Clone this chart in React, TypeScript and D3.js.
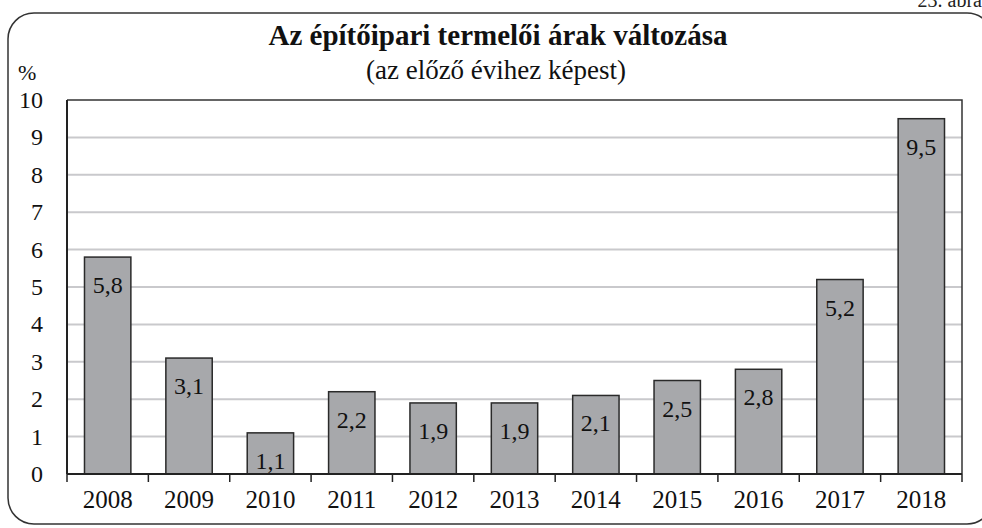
import React, { useRef, useEffect } from "react";
import * as d3 from "d3";

const years = ["2008", "2009", "2010", "2011", "2012", "2013", "2014", "2015", "2016", "2017", "2018"];
const values = [5.8, 3.1, 1.1, 2.2, 1.9, 1.9, 2.1, 2.5, 2.8, 5.2, 9.5];
const yTicks = [0, 1, 2, 3, 4, 5, 6, 7, 8, 9, 10];

const title = "Az építőipari termelői árak változása";
const subtitle = "(az előző évihez képest)";

export default function App() {
  const ref = useRef<SVGSVGElement | null>(null);

  useEffect(() => {
    if (!ref.current) return;
    const width = 982;
    const height = 528;
    const margin = { top: 100, right: 20, bottom: 54, left: 67 };
    const font = "Liberation Serif, DejaVu Serif, serif";

    const svg = d3.select(ref.current);
    svg.selectAll("*").remove();

    // outer rounded frame
    svg.append("rect")
      .attr("x", 8).attr("y", 13)
      .attr("width", 985).attr("height", 511)
      .attr("rx", 26).attr("ry", 26)
      .attr("fill", "none")
      .attr("stroke", "#333")
      .attr("stroke-width", 1.5);

    svg.append("text")
      .attr("x", 982).attr("y", 7)
      .attr("text-anchor", "end")
      .attr("font-family", font)
      .attr("font-size", 20)
      .attr("fill", "#222")
      .text("23. ábra");

    const x = d3.scaleBand()
      .domain(years)
      .range([margin.left, width - margin.right])
      .paddingInner(0.43)
      .paddingOuter(0.215);

    const y = d3.scaleLinear()
      .domain([0, 10])
      .range([height - margin.bottom, margin.top]);

    // gridlines
    svg.append("g")
      .selectAll("line")
      .data(yTicks.filter(d => d > 0 && d < 10))
      .join("line")
        .attr("x1", margin.left).attr("x2", width - margin.right)
        .attr("y1", d => y(d)).attr("y2", d => y(d))
        .attr("stroke", "#c9c9cc")
        .attr("stroke-width", 2);

    // plot frame (top, right)
    svg.append("path")
      .attr("d", `M${margin.left},${y(10)}H${width - margin.right}V${y(0)}`)
      .attr("fill", "none")
      .attr("stroke", "#333")
      .attr("stroke-width", 1.5);

    // bars
    svg.append("g")
      .selectAll("rect")
      .data(values)
      .join("rect")
        .attr("x", (d, i) => x(years[i])!)
        .attr("y", d => y(d))
        .attr("width", x.bandwidth())
        .attr("height", d => y(0) - y(d))
        .attr("fill", "#a7a8ab")
        .attr("stroke", "#2a2a2a")
        .attr("stroke-width", 1.5);

    // value labels
    svg.append("g")
      .attr("font-family", font)
      .attr("font-size", 24)
      .attr("text-anchor", "middle")
      .attr("fill", "#111")
      .selectAll("text")
      .data(values)
      .join("text")
        .attr("x", (d, i) => x(years[i])! + x.bandwidth() / 2)
        .attr("y", d => y(d) + 36)
        .text(d => d3.format(".1f")(d).replace(".", ","));

    // y axis line
    svg.append("line")
      .attr("x1", margin.left).attr("x2", margin.left)
      .attr("y1", y(10)).attr("y2", y(0))
      .attr("stroke", "#222").attr("stroke-width", 2);

    // y tick labels
    svg.append("g")
      .attr("font-family", font)
      .attr("font-size", 24)
      .attr("text-anchor", "end")
      .attr("fill", "#111")
      .selectAll("text")
      .data(yTicks)
      .join("text")
        .attr("x", 43)
        .attr("y", d => y(d) + 8)
        .text(d => d);

    // x axis
    const step = x.step();
    const boundaries = d3.range(years.length + 1).map(i => margin.left + i * step);
    svg.append("line")
      .attr("x1", margin.left).attr("x2", width - margin.right)
      .attr("y1", y(0)).attr("y2", y(0))
      .attr("stroke", "#222").attr("stroke-width", 2);
    svg.append("g")
      .selectAll("line")
      .data(boundaries)
      .join("line")
        .attr("x1", d => d).attr("x2", d => d)
        .attr("y1", y(0)).attr("y2", y(0) + 8)
        .attr("stroke", "#222").attr("stroke-width", 1.5);

    svg.append("g")
      .attr("font-family", font)
      .attr("font-size", 25)
      .attr("text-anchor", "middle")
      .attr("fill", "#111")
      .selectAll("text")
      .data(years)
      .join("text")
        .attr("x", d => x(d)! + x.bandwidth() / 2)
        .attr("y", y(0) + 34)
        .text(d => d);

    // titles
    svg.append("text")
      .attr("x", 498).attr("y", 45)
      .attr("text-anchor", "middle")
      .attr("font-family", font)
      .attr("font-size", 29)
      .attr("font-weight", "bold")
      .attr("fill", "#111")
      .text(title);
    svg.append("text")
      .attr("x", 496).attr("y", 79)
      .attr("text-anchor", "middle")
      .attr("font-family", font)
      .attr("font-size", 27)
      .attr("fill", "#111")
      .text(subtitle);
    svg.append("text")
      .attr("x", 18).attr("y", 80)
      .attr("font-family", font)
      .attr("font-size", 22)
      .attr("fill", "#111")
      .text("%");
  }, []);

  return (
    <svg ref={ref} width={982} height={528}
      style={{ position: "absolute", left: 0, top: 0, background: "#fff" }} />
  );
}
